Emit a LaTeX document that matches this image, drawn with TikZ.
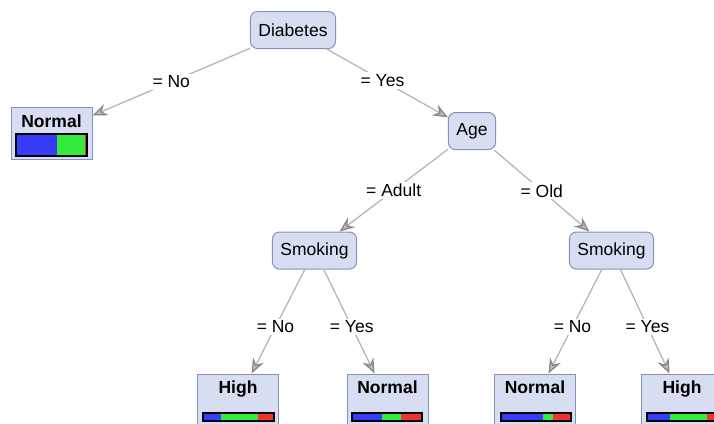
\documentclass[tikz,border=0pt]{standalone}
\usepackage{fontspec}
\setmainfont{Liberation Sans}
\usepackage{tikz}
\usetikzlibrary{arrows.meta}

\definecolor{nodefill}{RGB}{216,222,242}
\definecolor{nodeline}{RGB}{130,146,188}
\definecolor{edgeline}{RGB}{182,182,182}
\definecolor{tipgray}{RGB}{135,135,135}
\definecolor{barblue}{RGB}{55,60,250}
\definecolor{bargreen}{RGB}{50,235,60}
\definecolor{barred}{RGB}{240,50,50}

\begin{document}
\begin{tikzpicture}[x=1pt, y=-1pt, font=\fontsize{17.5}{20}\selectfont,
        test/.style={draw=nodeline, fill=nodefill, rounded corners=7pt, line width=1pt,
            minimum height=37pt, inner xsep=8pt},
        leaf/.style={draw=nodeline, fill=nodefill, line width=1pt,
            minimum width=81pt, minimum height=52pt},
        leaftitle/.style={font=\fontsize{17.5}{20}\selectfont\bfseries,
            text height=12.5pt, text depth=3.5pt},
        branch/.style={draw=edgeline, line width=1.3pt,
            -{Stealth[length=15pt, width=12pt, inset=5pt, color=tipgray, fill=tipgray!55]}},
        cond/.style={fill=white, inner sep=2pt, pos=#1},
        cond/.default=0.5]
        \path[use as bounding box] (0,0) rectangle (714,423);
        \clip (0,0) rectangle (714,423);

        % Test nodes.
        \node[test] (diab) at (293,30) {Diabetes};
        \node[test] (age) at (472,131) {Age};
        \node[test] (smkA) at (314.5,250.5) {Smoking};
        \node[test] (smkB) at (611.5,250.5) {Smoking};

        % Leaves.
        \node[leaf] (lfA) at (51.5,133) {};
        \node[leaf] (lfB) at (238,400) {};
        \node[leaf] (lfC) at (387.5,400) {};
        \node[leaf] (lfD) at (535,400) {};
        \node[leaf] (lfE) at (682,400) {};
        \node[leaftitle] (tA) at (51.5,123) {Normal};
        \node[leaftitle] (tB) at (238,389) {High};
        \node[leaftitle] (tC) at (387.5,389) {Normal};
        \node[leaftitle] (tD) at (535,389) {Normal};
        \node[leaftitle] (tE) at (682,389) {High};

        % Class bars.
        \fill[barblue] (16,134) rectangle (57,156);
        \fill[bargreen] (57,134) rectangle (85,156);
        \fill[barred] (85,134) rectangle (87,156);
        \draw[line width=1.5pt] (16,134) rectangle (87,156);

        \fill[barblue] (203,413) rectangle (221,421);
        \fill[bargreen] (221,413) rectangle (258,421);
        \fill[barred] (258,413) rectangle (274,421);
        \draw[line width=1.5pt] (203,413) rectangle (274,421);

        \fill[barblue] (352,413) rectangle (382,421);
        \fill[bargreen] (382,413) rectangle (401,421);
        \fill[barred] (401,413) rectangle (422,421);
        \draw[line width=1.5pt] (352,413) rectangle (422,421);

        \fill[barblue] (501,413) rectangle (543,421);
        \fill[bargreen] (543,413) rectangle (553,421);
        \fill[barred] (553,413) rectangle (571,421);
        \draw[line width=1.5pt] (501,413) rectangle (571,421);

        \fill[barblue] (647,413) rectangle (670,421);
        \fill[bargreen] (670,413) rectangle (707,421);
        \fill[barred] (707,413) rectangle (718,421);
        \draw[line width=1.5pt] (647,413) rectangle (718,421);

        % Branches.
        \draw[branch] (diab) -- node[cond] {= No} (lfA);
        \draw[branch] (diab) -- node[cond=0.46] {= Yes} (age);
        \draw[branch] (age) -- node[cond] {= Adult} (smkA);
        \draw[branch] (age) -- node[cond] {= Old} (smkB);
        \draw[branch] (smkA) -- node[cond=0.55] {= No} (lfB);
        \draw[branch] (smkA) -- node[cond=0.55] {= Yes} (lfC);
        \draw[branch] (smkB) -- node[cond=0.55] {= No} (lfD);
        \draw[branch] (smkB) -- node[cond=0.55] {= Yes} (lfE);
    \end{tikzpicture}
\end{document}
